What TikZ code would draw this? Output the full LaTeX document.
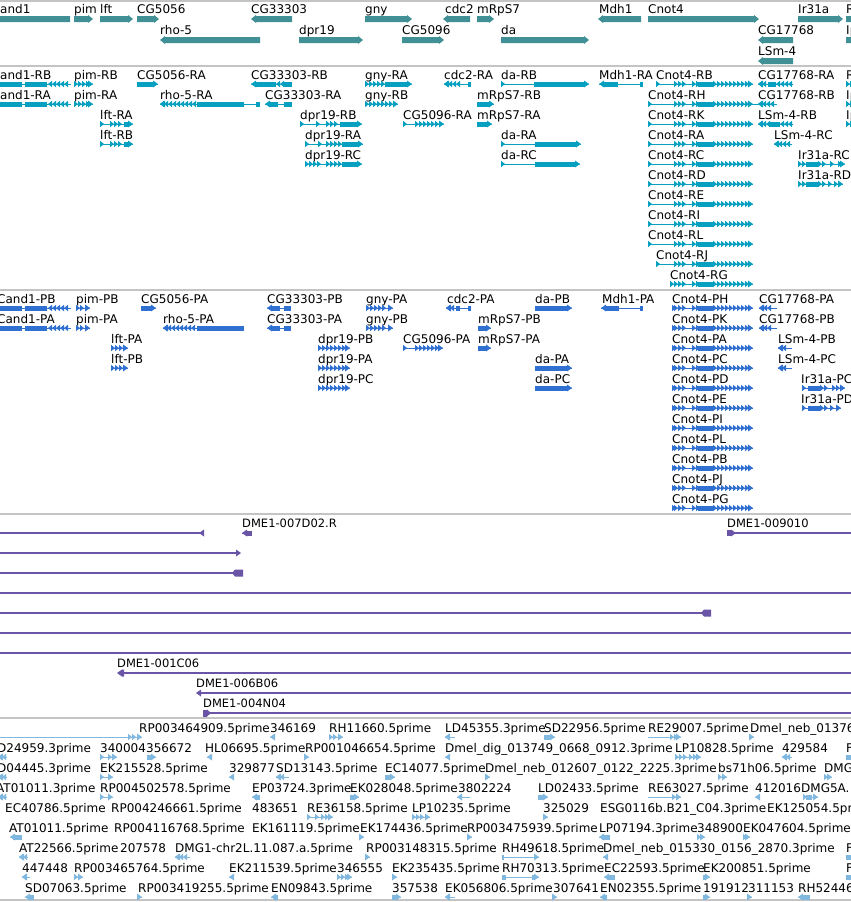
\documentclass[tikz,border=0pt]{standalone}
\usepackage{fontspec}
\usepackage{tikz}
\newfontfamily\gbfont{DejaVu Sans}

\definecolor{genecol}{HTML}{409096}
\definecolor{rnacol}{HTML}{08A0C0}
\definecolor{protcol}{HTML}{3070D0}
\definecolor{dmecol}{HTML}{6A54A6}
\definecolor{estcol}{HTML}{80B8E0}
\definecolor{sepcol}{HTML}{C4C4C4}

% gene bar: from, to (arrow end), y
\newcommand{\gbar}[3]{%
  \pgfmathsetmacro\gs{ifthenelse(#2>#1,1,-1)}%
  \fill[trk] (#1,#3-3) -- ({#2-5*(\gs)},#3-3) -- ({#2-5*(\gs)},#3-4) -- (#2,#3)
    -- ({#2-5*(\gs)},#3+4) -- ({#2-5*(\gs)},#3+3) -- (#1,#3+3) -- cycle;}

% feature glyph: from, to (arrow end), y, blocks, chevron runs
\newcommand{\tx}[5]{%
  \pgfmathsetmacro\ts{ifthenelse(#2>#1,1,-1)}%
  \draw[trk, line width=1pt] (#1,#3) -- (#2,#3);%
  \if\relax\detokenize{#4}\relax\else
    \foreach \xa/\xb in {#4} {\fill[trk] (\xa,#3-2.5) rectangle (\xb,#3+2.5);}%
  \fi
  \if\relax\detokenize{#5}\relax\else
    \foreach \xa/\xb in {#5} {%
      \pgfmathtruncatemacro\nn{(\xb-\xa)/4}%
      \foreach \kk in {0,...,\nn} {%
        \pgfmathsetmacro\px{\xa+4*\kk+2-2*(\ts)}%
        \fill[trk] (\px,#3-3.2) -- ({\px+4*(\ts)},#3) -- (\px,#3+3.2) -- cycle;}}%
  \fi
  \fill[trk] ({#2-5*(\ts)},#3-3.5) -- (#2,#3) -- ({#2-5*(\ts)},#3+3.5) -- cycle;}

\newcommand{\cnot}[2]{\tx{#1}{753}{#2}{698/713}{#1/#1,674/682,692/696,713/745}}

\begin{document}
\begin{tikzpicture}[x=1pt, y=-1pt,
    lbl/.style={anchor=base west, inner sep=0pt, font=\gbfont\fontsize{12}{14}\selectfont},
    dlbl/.style={lbl, font=\gbfont\fontsize{11.5}{14}\selectfont},
    sepline/.style={draw=sepcol, line width=1.2pt},
    dmeline/.style={draw=dmecol, line width=1.2pt}]
  \useasboundingbox (0,0) rectangle (851,902);
  \clip (0,0) rectangle (851,902);
  \fill[white] (0,0) rectangle (851,902);

  \foreach \yy in {1,66,290,514,718,900}
    \draw[sepline] (0,\yy) -- (851,\yy);

  % genes
  \colorlet{trk}{genecol}
  \foreach \x/\y/\txt [count=\i] in {0/13/and1, 74/13/pim, 100/13/lft, 137/13/CG5056,
      251/13/CG33303, 365/13/gny, 445/13/cdc2, 477/13/mRpS7, 599/13/Mdh1, 648/13/Cnot4,
      798/13/Ir31a, 846/13/R, 160/34/rho-5, 299/34/dpr19, 402/34/CG5096, 501/34/da,
      758/34/CG17768, 846/34/Ip, 758/55/LSm-4}
    \node[lbl] (gene\i) at (\x,\y) {\txt};
  \gbar{70}{-10}{19} \gbar{74}{93}{19} \gbar{100}{133}{19} \gbar{137}{159}{19}
  \gbar{292}{251}{19} \gbar{365}{412}{19} \gbar{470}{443}{19} \gbar{477}{494}{19}
  \gbar{641}{598}{19} \gbar{648}{759}{19} \gbar{798}{843}{19} \gbar{846}{862}{19}
  \gbar{260}{160}{40} \gbar{299}{363}{40} \gbar{402}{444}{40} \gbar{501}{589}{40}
  \gbar{793}{758}{40} \gbar{846}{862}{40}
  \gbar{793}{758}{61}

  % transcripts
  \colorlet{trk}{rnacol}
  \foreach \x/\y/\txt [count=\i] in {0/79/and1-RB, 74/79/pim-RB, 137/79/CG5056-RA,
      251/79/CG33303-RB, 365/79/gny-RA, 444/79/cdc2-RA, 501/79/da-RB, 599/79/Mdh1-RA,
      656/79/Cnot4-RB, 758/79/CG17768-RA, 846/79/R,
      0/99/and1-RA, 74/99/pim-RA, 160/99/rho-5-RA, 265/99/CG33303-RA, 365/99/gny-RB,
      477/99/mRpS7-RB, 648/99/Cnot4-RH, 758/99/CG17768-RB, 846/99/Ip,
      100/119/lft-RA, 300/119/dpr19-RB, 403/119/CG5096-RA, 477/119/mRpS7-RA,
      648/119/Cnot4-RK, 758/119/LSm-4-RB, 846/119/Ip,
      100/139/lft-RB, 305/139/dpr19-RA, 501/139/da-RA, 648/139/Cnot4-RA, 774/139/LSm-4-RC,
      305/159/dpr19-RC, 501/159/da-RC, 648/159/Cnot4-RC, 798/159/Ir31a-RC,
      648/179/Cnot4-RD, 798/179/Ir31a-RD, 648/199/Cnot4-RE, 648/219/Cnot4-RI,
      648/239/Cnot4-RL, 656/259/Cnot4-RJ, 670/279/Cnot4-RG}
    \node[lbl] (rna\i) at (\x,\y) {\txt};
  \foreach \yy in {84,104} {
    \tx{71}{-6}{\yy}{-6/22,25/47}{48/66}
    \tx{74}{93}{\yy}{}{74/86}}
  \tx{137}{158}{84}{137/153}{}
  \tx{292}{251}{84}{256/276,283/292}{276/280}
  \tx{365}{412}{84}{385/407}{365/381}
  \tx{471}{444}{84}{468/471}{444/456}
  \tx{501}{589}{84}{534/584}{501/501}
  \tx{643}{599}{84}{603/618,640/643}{}
  \cnot{656}{84}
  \tx{793}{758}{84}{768/776}{758/764,776/788}
  \tx{846}{862}{84}{}{846/858}
  \tx{260}{160}{104}{197/244,256/260}{160/193}
  \tx{292}{265}{104}{270/278,284/292}{}
  \tx{365}{398}{104}{}{365/390}
  \tx{477}{494}{104}{477/489}{}
  \draw[trk, line width=1pt] (753,104) -- (760,104);
  \tx{777}{758}{104}{}{758/770}
  \tx{846}{862}{104}{}{846/858}
  \tx{100}{133}{124}{124/128}{100/100,110/120}
  \tx{300}{362}{124}{340/357}{300/300,316/316,326/336}
  \tx{403}{444}{124}{}{403/403,415/435}
  \tx{477}{492}{124}{477/487}{}
  \tx{793}{758}{124}{770/780}{758/766,780/788}
  \tx{846}{862}{124}{}{846/858}
  \tx{100}{133}{144}{124/128}{100/100,110/120}
  \tx{305}{363}{144}{342/358}{305/305,318/318,326/338}
  \tx{501}{581}{144}{535/576}{501/501}
  \tx{792}{774}{144}{}{774/786}
  \tx{305}{362}{164}{342/357}{305/318,326/338}
  \tx{501}{580}{164}{535/575}{501/501}
  \tx{798}{845}{164}{806/818}{798/802,818/822,830/830,838/838}
  \tx{798}{843}{184}{806/818}{798/802,818/822,828/828,834/834}
  \foreach \yy in {104,124,...,244} {\cnot{648}{\yy}}
  \cnot{656}{264}
  \cnot{670}{284}

  % proteins
  \colorlet{trk}{protcol}
  \foreach \x/\y/\txt [count=\i] in {-3/303/Cand1-PB, 76/303/pim-PB, 141/303/CG5056-PA,
      267/303/CG33303-PB, 366/303/gny-PA, 447/303/cdc2-PA, 535/303/da-PB, 602/303/Mdh1-PA,
      672/303/Cnot4-PH, 759/303/CG17768-PA,
      -3/323/Cand1-PA, 76/323/pim-PA, 163/323/rho-5-PA, 267/323/CG33303-PA, 366/323/gny-PB,
      478/323/mRpS7-PB, 672/323/Cnot4-PK, 759/323/CG17768-PB,
      111/343/lft-PA, 318/343/dpr19-PB, 403/343/CG5096-PA, 478/343/mRpS7-PA,
      672/343/Cnot4-PA, 778/343/LSm-4-PB,
      111/363/lft-PB, 318/363/dpr19-PA, 535/363/da-PA, 672/363/Cnot4-PC, 778/363/LSm-4-PC,
      318/383/dpr19-PC, 535/383/da-PC, 672/383/Cnot4-PD, 801/383/Ir31a-PC,
      672/403/Cnot4-PE, 801/403/Ir31a-PD, 672/423/Cnot4-PI, 672/443/Cnot4-PL,
      672/463/Cnot4-PB, 672/483/Cnot4-PJ, 672/503/Cnot4-PG}
    \node[lbl] (prot\i) at (\x,\y) {\txt};
  \foreach \yy in {308,328} {
    \tx{71}{-6}{\yy}{-6/22,25/47}{48/66}
    \tx{76}{90}{\yy}{}{76/82}
    \tx{291}{267}{\yy}{271/280,284/291}{}
    \tx{366}{393}{\yy}{}{366/384}
    \tx{777}{759}{\yy}{}{759/769}}
  \tx{141}{156}{308}{141/151}{}
  \tx{471}{446}{308}{456/460,468/471}{446/452}
  \tx{535}{572}{308}{535/567}{}
  \tx{643}{601}{308}{605/619,640/643}{}
  \tx{244}{163}{328}{197/244}{163/193}
  \tx{478}{491}{328}{478/486}{}
  \foreach \yy in {348,368} {
    \tx{111}{128}{\yy}{}{111/119}
    \tx{792}{778}{\yy}{}{778/784}}
  \foreach \yy in {348,368,388} {\tx{318}{350}{\yy}{}{318/342}}
  \tx{403}{443}{348}{}{403/403,415/435}
  \tx{478}{491}{348}{478/486}{}
  \foreach \yy in {368,388} {\tx{535}{572}{\yy}{535/567}{}}
  \tx{802}{845}{388}{808/820}{802/804,820/824,832/836}
  \tx{802}{841}{408}{808/820}{802/804,820/824,830/832}
  \foreach \yy in {308,328,...,508} {\cnot{672}{\yy}}

  % DME clones
  \colorlet{trk}{dmecol}
  \foreach \x/\y/\txt [count=\i] in {242/527/DME1-007D02.R, 727/527/DME1-009010,
      117/667/DME1-001C06, 196/687/DME1-006B06, 203/707/DME1-004N04}
    \node[dlbl] (dme\i) at (\x,\y) {\txt};
  \draw[dmeline] (0,533) -- (201,533);
  \fill[trk] (204,529.5) -- (199,533) -- (204,536.5) -- cycle;
  \tx{252}{242}{533}{246/252}{}
  \draw[dmeline] (731,533) -- (851,533);
  \fill[trk] (727,530) rectangle (731,536);
  \fill[trk] (731,529.5) -- (736,533) -- (731,536.5) -- cycle;
  \draw[dmeline] (0,553) -- (236,553);
  \fill[trk] (236,549.5) -- (241,553) -- (236,556.5) -- cycle;
  \draw[dmeline] (0,573) -- (234,573);
  \fill[trk] (232,573) -- (235,569.5) -- (243,569.5) -- (243,576.5) -- (235,576.5) -- cycle;
  \draw[dmeline] (0,593) -- (851,593);
  \draw[dmeline] (0,613) -- (703,613);
  \fill[trk] (701,613) -- (704,609.5) -- (711,609.5) -- (711,616.5) -- (704,616.5) -- cycle;
  \draw[dmeline] (0,633) -- (851,633);
  \draw[dmeline] (0,653) -- (851,653);
  \draw[dmeline] (122,673) -- (851,673);
  \fill[trk] (117,673) -- (122,669.5) -- (124,669.5) -- (124,676.5) -- (122,676.5) -- cycle;
  \draw[dmeline] (200,693) -- (851,693);
  \fill[trk] (196,693) -- (201,689.5) -- (201,696.5) -- cycle;
  \draw[dmeline] (206,713) -- (851,713);
  \fill[trk] (203,709.5) rectangle (207,716.5);
  \fill[trk] (207,709.5) -- (211,713) -- (207,716.5) -- cycle;

  % ESTs
  \colorlet{trk}{estcol}
  \foreach \x/\y/\txt [count=\i] in {139/732/RP003464909.5prime, 270/732/346169,
      329/732/RH11660.5prime, 445/732/LD45355.3prime, 544/732/SD22956.5prime,
      648/732/RE29007.5prime, 750/732/Dmel\_neb\_01376,
      -3/752/D24959.3prime, 100/752/340004, 146/752/356672, 205/752/HL06695.5prime,
      305/752/RP001046654.5prime, 445/752/Dmel\_dig\_013749\_0668\_0912.3prime,
      675/752/LP10828.5prime, 782/752/429584, 846/752/F,
      -3/772/D04445.3prime, 100/772/EK215528.5prime, 229/772/329877, 276/772/SD13143.5prime,
      385/772/EC14077.5prime, 485/772/Dmel\_neb\_012607\_0122\_2225.3prime,
      718/772/bs71h06.5prime, 824/772/DMG,
      -4/792/AT01011.3prime, 100/792/RP004502578.5prime, 252/792/EP03724.3prime,
      350/792/EK028048.5prime, 458/792/3802224, 538/792/LD02433.5prime,
      648/792/RE63027.5prime, 755/792/412016, 801/792/DMG5A.,
      5/812/EC40786.5prime, 111/812/RP004246661.5prime, 252/812/483651,
      307/812/RE36158.5prime, 412/812/LP10235.5prime, 543/812/325029,
      600/812/ESG0116b.B21\_C04.3prime, 767/812/EK125054.5prime,
      9/832/AT01011.5prime, 114/832/RP004116768.5prime, 252/832/EK161119.5prime,
      360/832/EK174436.5prime, 467/832/RP003475939.5prime, 599/832/LP07194.3prime,
      697/832/348900, 743/832/EK047604.5prime,
      19/852/AT22566.5prime, 120/852/207578, 175/852/DMG1-chr2L.11.087.a.5prime,
      366/852/RP003148315.5prime, 502/852/RH49618.5prime,
      603/852/Dmel\_neb\_015330\_0156\_2870.3prime, 846/852/F,
      22/872/447448, 74/872/RP003465764.5prime, 229/872/EK211539.5prime, 337/872/346555,
      392/872/EK235435.5prime, 502/872/RH70313.5prime, 604/872/EC22593.5prime,
      703/872/EK200851.5prime, 846/872/F,
      25/892/SD07063.5prime, 138/892/RP003419255.5prime, 271/892/EN09843.5prime,
      392/892/357538, 445/892/EK056806.5prime, 553/892/307641, 600/892/EN02355.5prime,
      703/892/191912, 748/892/311153, 798/892/RH52446}
    \node[lbl] (est\i) at (\x,\y) {\txt};
  \tx{-2}{142}{737}{}{128/134}
  \tx{274}{270}{737}{}{}
  \tx{329}{343}{737}{}{329/335}
  \tx{455}{445}{737}{}{445/447}
  \tx{544}{555}{737}{544/550}{}
  \tx{648}{681}{737}{}{670/674}
  \tx{750}{754}{737}{}{}
  \tx{7}{-2}{757}{}{-2/2}
  \tx{100}{117}{757}{}{100/100,108/112}
  \tx{147}{156}{757}{147/152}{}
  \tx{212}{207}{757}{}{}
  \tx{305}{309}{757}{}{}
  \tx{449}{445}{757}{}{}
  \tx{675}{701}{757}{}{675/683,689/693}
  \tx{792}{782}{757}{}{782/786}
  \tx{846}{858}{757}{846/852}{}
  \tx{7}{-2}{777}{}{-2/2}
  \tx{100}{113}{777}{}{100/100}
  \tx{233}{229}{777}{}{}
  \tx{289}{276}{777}{}{276/280}
  \tx{385}{395}{777}{385/391}{}
  \tx{485}{490}{777}{}{}
  \tx{718}{727}{777}{}{718/720}
  \tx{824}{832}{777}{}{824/826}
  \tx{7}{-2}{797}{}{-2/2}
  \tx{100}{113}{797}{}{100/100}
  \tx{260}{252}{797}{255/260}{}
  \tx{350}{359}{797}{350/355}{}
  \tx{470}{457}{797}{}{}
  \tx{538}{548}{797}{538/544}{}
  \tx{648}{681}{797}{}{672/676}
  \tx{760}{755}{797}{}{}
  \tx{803}{818}{797}{806/812}{803/803}
  \tx{307}{333}{817}{}{307/307,315/315,321/325}
  \tx{412}{430}{817}{}{412/420}
  \tx{543}{548}{817}{}{}
  \tx{22}{10}{837}{13/22}{}
  \tx{360}{364}{837}{}{}
  \tx{467}{472}{837}{}{}
  \tx{610}{599}{837}{602/610}{}
  \tx{697}{705}{837}{}{697/699}
  \tx{743}{750}{837}{}{743/745}
  \tx{28}{19}{857}{}{19/23}
  \tx{190}{175}{857}{}{175/183}
  \tx{366}{370}{857}{}{}
  \tx{502}{539}{857}{502/504}{}
  \tx{607}{603}{857}{}{}
  \tx{846}{858}{857}{846/852}{}
  \tx{30}{22}{877}{}{22/24}
  \tx{74}{83}{877}{}{74/76}
  \tx{233}{229}{877}{}{}
  \tx{337}{352}{877}{}{337/345}
  \tx{392}{397}{877}{392/393}{}
  \tx{502}{539}{877}{502/506,532/535}{}
  \tx{615}{604}{877}{607/615}{}
  \tx{703}{710}{877}{703/706}{}
  \tx{846}{858}{877}{846/852}{}
  \tx{34}{25}{897}{28/34}{}
  \tx{138}{142}{897}{}{}
  \tx{278}{271}{897}{274/278}{}
  \tx{392}{401}{897}{392/397}{}
  \tx{455}{445}{897}{}{445/447}
  \tx{553}{557}{897}{}{}
  \tx{607}{600}{897}{603/607}{}
  \tx{703}{710}{897}{703/706}{}
  \tx{748}{752}{897}{}{}
  \tx{810}{798}{897}{801/810}{}
\end{tikzpicture}
\end{document}
